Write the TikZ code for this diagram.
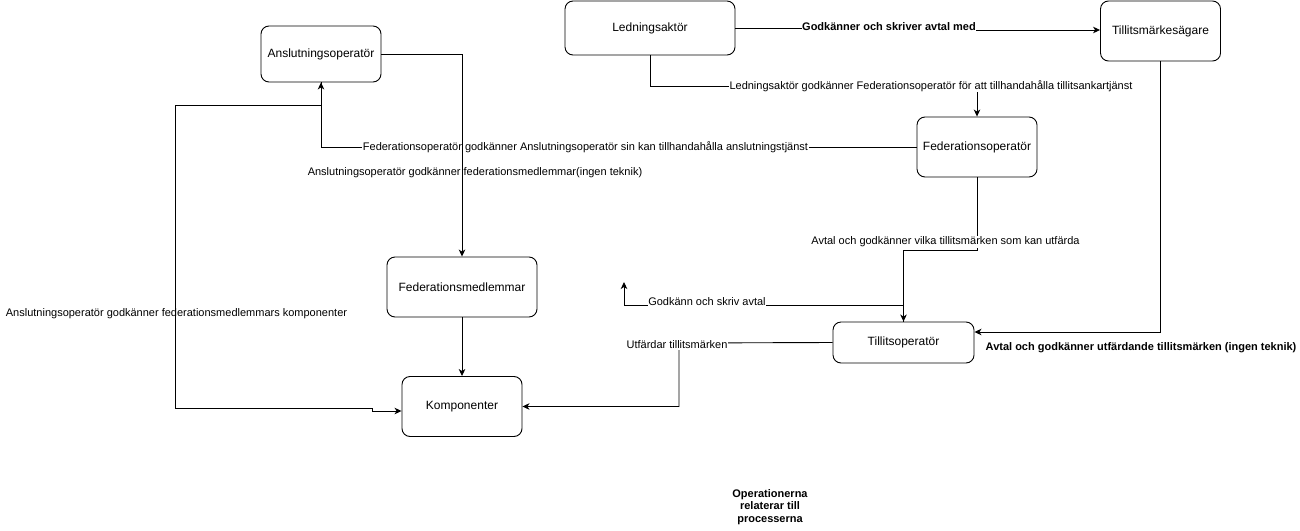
\documentclass[tikz,border=0pt]{standalone}
\usepackage{fontspec}
\setmainfont{Liberation Sans}
\usetikzlibrary{arrows.meta}
\begin{document}
\begin{tikzpicture}[x=1pt,y=-1pt,
  box/.style={draw, rounded corners=8pt, line width=0.9pt, inner sep=0pt,
    font=\fontsize{12}{14}\selectfont},
  conn/.style={draw, line width=0.9pt},
  arr/.style={conn, -{Stealth[length=7pt,width=6.5pt,inset=2pt]}},
  lab/.style={font=\fontsize{11}{13}\selectfont, inner sep=0.5pt},
  labw/.style={lab, fill=white},
  labb/.style={font=\bfseries\fontsize{11}{13}\selectfont, inner sep=0.5pt}]
\useasboundingbox (0,0) rectangle (1300,530);

% nodes
\node[box, minimum width=120pt, minimum height=56pt] (ansl) at (321,54) {Anslutningsoperatör};
\node[box, minimum width=170pt, minimum height=54pt] (ledn) at (650,28) {Ledningsaktör};
\node[box, minimum width=120pt, minimum height=60pt] (tms) at (1160.5,31) {Tillitsmärkesägare};
\node[box, minimum width=120pt, minimum height=60pt] (fedop) at (977,147) {Federationsoperatör};
\node[box, minimum width=150pt, minimum height=60pt] (fedm) at (462,287) {Federationsmedlemmar};
\node[box, minimum width=120pt, minimum height=60pt] (komp) at (462,406.5) {Komponenter};
\node[box, minimum width=141pt, minimum height=41pt] (tillop) at (903.5,342.5) {Tillitsoperatör};
\coordinate (freeend) at (624,282);

% connectors with white-backed labels
\draw[arr] (ledn.east) -- (890,28) -- (890,30) -- (tms.west |- 0,30);
\node[labb, fill=white] (l1) at (889,27) {Godkänner och skriver avtal med};

\draw[arr] (ledn.south) -- ++(0,31) -| (fedop.north);
\node[labw] (l2) at (931,86) {Ledningsaktör godkänner Federationsoperatör för att tillhandahålla tillitsankartjänst};

\draw[arr] (fedop.west) -| (ansl.south);
\node[labw] (l3) at (585.5,147.5) {Federationsoperatör godkänner Anslutningsoperatör sin kan tillhandahålla anslutningstjänst};

\draw[arr] (fedop.south) -- (977,250) -| (tillop.north);
\node[labw] (l7) at (945.5,242) {Avtal och godkänner vilka tillitsmärken som kan utfärda};

\draw[arr] (tillop.north) -- (903.5,305) -| (freeend);
\node[labw] (l8) at (707,302) {Godkänn och skriv avtal};

\draw[arr] (tms.south) -- (1160.5,332) -- (tillop.east |- 0,332);
\node[labb, anchor=west] (l9) at (985,348) {Avtal och godkänner utfärdande tillitsmärken (ingen teknik)};

\draw[arr] (tillop.west) -- (679,343) -- (679,406.5) -- (komp.east);
\node[labw] (l10) at (677,345) {Utfärdar tillitsmärken};

% labels without background (lines pass over them)
\node[lab] (l4) at (475,173) {Anslutningsoperatör godkänner federationsmedlemmar(ingen teknik)};
\node[lab] (l6) at (176.5,314) {Anslutningsoperatör godkänner federationsmedlemmars komponenter};

\draw[arr] (ansl.east) -| (fedm.north);
\draw[arr] (fedm.south) -- (komp.north);
\draw[arr] (ansl.south) -- (321,105) -- (175,105) -- (175,408) -- (372,408) -- (372,411) -- (komp.west |- 0,411);

\node[labb, align=center] (note) at (770,507) {Operationerna\\[-0.5pt]relaterar till\\[-0.5pt]processerna};
\end{tikzpicture}
\end{document}
